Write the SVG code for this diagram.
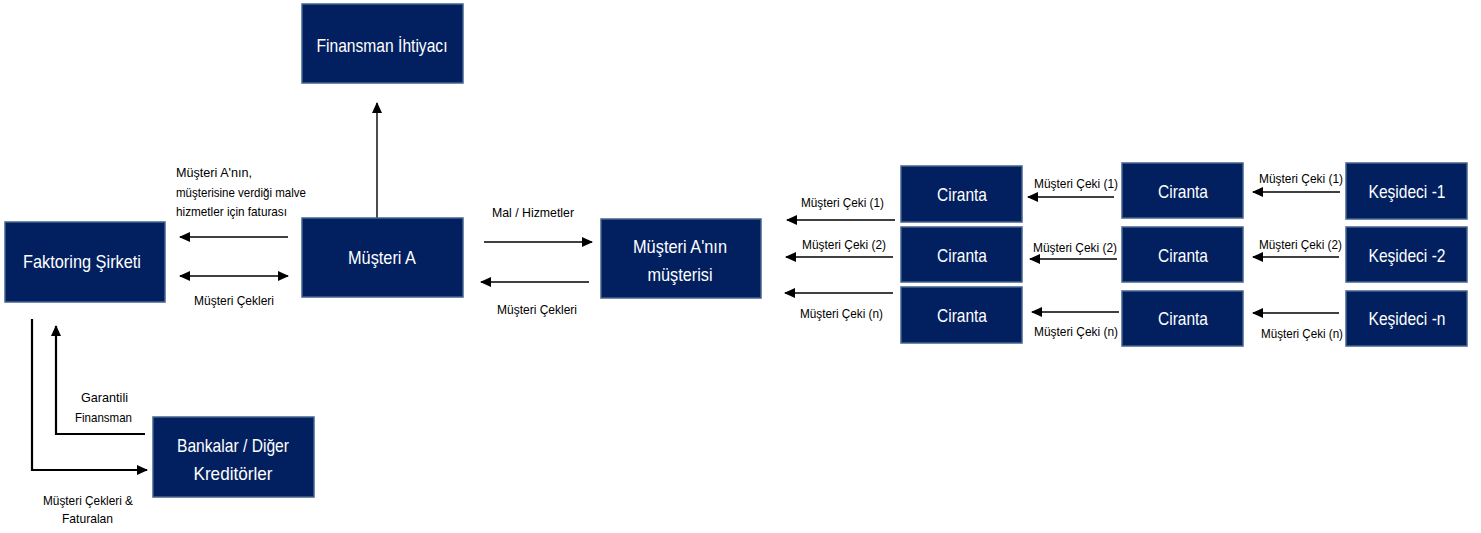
<svg xmlns="http://www.w3.org/2000/svg" width="1481" height="533" viewBox="0 0 1481 533">
<style>
.box{fill:#022060;stroke:#44648c;stroke-width:1.5}
.bt{font-family:"Liberation Sans",Arial,sans-serif;font-size:19px;fill:#ffffff;text-anchor:middle}
.lb{font-family:"Liberation Sans",Arial,sans-serif;font-size:13px;fill:#000000}
.c{text-anchor:middle}
.ln{stroke:#000;stroke-width:1.4;fill:none}
.lnb{stroke:#000;stroke-width:2.2;fill:none}
</style>
<defs>
<marker id="ah" markerUnits="userSpaceOnUse" markerWidth="11" markerHeight="10" refX="10" refY="5" orient="auto-start-reverse" viewBox="0 0 11 10">
<path d="M0,0 L11,5 L0,10 z" fill="#000"/>
</marker>
</defs>
<rect width="1481" height="533" fill="#ffffff"/>

<g id="connectors">
<line class="ln" x1="377" y1="218" x2="377" y2="103" marker-end="url(#ah)"/>
<line class="ln" x1="288" y1="237" x2="180" y2="237" marker-end="url(#ah)"/>
<line class="ln" x1="180" y1="276" x2="288" y2="276" marker-start="url(#ah)" marker-end="url(#ah)"/>
<line class="ln" x1="484" y1="242" x2="592" y2="242" marker-end="url(#ah)"/>
<line class="ln" x1="589" y1="282" x2="481" y2="282" marker-end="url(#ah)"/>
<line class="ln" x1="895" y1="220" x2="787" y2="220" marker-end="url(#ah)"/>
<line class="ln" x1="893" y1="257" x2="786" y2="257" marker-end="url(#ah)"/>
<line class="ln" x1="893" y1="293" x2="785" y2="293" marker-end="url(#ah)"/>
<line class="ln" x1="1114" y1="197" x2="1028" y2="197" marker-end="url(#ah)"/>
<line class="ln" x1="1117" y1="259" x2="1030" y2="259" marker-end="url(#ah)"/>
<line class="ln" x1="1119" y1="312" x2="1032" y2="312" marker-end="url(#ah)"/>
<line class="ln" x1="1340" y1="192" x2="1253" y2="192" marker-end="url(#ah)"/>
<line class="ln" x1="1339" y1="257" x2="1253" y2="257" marker-end="url(#ah)"/>
<line class="ln" x1="1339" y1="313" x2="1253" y2="313" marker-end="url(#ah)"/>
<polyline class="lnb" points="32,319 32,470 147,470" marker-end="url(#ah)"/>
<polyline class="lnb" points="145,434 56,434 56,326" marker-end="url(#ah)"/>

<text class="lb" x="176" y="177" textLength="76" lengthAdjust="spacingAndGlyphs">Müşteri A'nın,</text>
<text class="lb" x="176" y="197" textLength="130" lengthAdjust="spacingAndGlyphs">müşterisine verdiği malve</text>
<text class="lb" x="176" y="216" textLength="111" lengthAdjust="spacingAndGlyphs">hizmetler için faturası</text>
<text class="lb" x="194" y="305" textLength="80" lengthAdjust="spacingAndGlyphs">Müşteri Çekleri</text>
<text class="lb" x="492" y="217" textLength="82" lengthAdjust="spacingAndGlyphs">Mal / Hizmetler</text>
<text class="lb" x="497" y="314" textLength="80" lengthAdjust="spacingAndGlyphs">Müşteri Çekleri</text>
<text class="lb" x="801" y="207" textLength="83" lengthAdjust="spacingAndGlyphs">Müşteri Çeki (1)</text>
<text class="lb" x="802" y="249" textLength="84" lengthAdjust="spacingAndGlyphs">Müşteri Çeki (2)</text>
<text class="lb" x="800" y="318" textLength="83" lengthAdjust="spacingAndGlyphs">Müşteri Çeki (n)</text>
<text class="lb" x="1034" y="188" textLength="84" lengthAdjust="spacingAndGlyphs">Müşteri Çeki (1)</text>
<text class="lb" x="1033" y="252" textLength="84" lengthAdjust="spacingAndGlyphs">Müşteri Çeki (2)</text>
<text class="lb" x="1034" y="336" textLength="84" lengthAdjust="spacingAndGlyphs">Müşteri Çeki (n)</text>
<text class="lb" x="1259" y="183" textLength="84" lengthAdjust="spacingAndGlyphs">Müşteri Çeki (1)</text>
<text class="lb" x="1259" y="249" textLength="83" lengthAdjust="spacingAndGlyphs">Müşteri Çeki (2)</text>
<text class="lb" x="1261" y="338" textLength="82" lengthAdjust="spacingAndGlyphs">Müşteri Çeki (n)</text>
<text class="lb" x="81" y="402" textLength="47" lengthAdjust="spacingAndGlyphs">Garantili</text>
<text class="lb" x="75" y="422" textLength="57" lengthAdjust="spacingAndGlyphs">Finansman</text>
<text class="lb" x="43" y="505" textLength="90" lengthAdjust="spacingAndGlyphs">Müşteri Çekleri &amp;</text>
<text class="lb" x="62" y="523" textLength="51" lengthAdjust="spacingAndGlyphs">Faturalan</text>
</g>

<g id="finansman">
<rect class="box" x="302" y="4" width="161" height="79"/>
<text class="bt" x="382" y="52" textLength="131" lengthAdjust="spacingAndGlyphs">Finansman İhtiyacı</text>
</g>
<g id="faktoring">
<rect class="box" x="5" y="222" width="160" height="80"/>
<text class="bt" x="82" y="268" textLength="118" lengthAdjust="spacingAndGlyphs">Faktoring Şirketi</text>
</g>
<g id="musteriA">
<rect class="box" x="302" y="218" width="161" height="79"/>
<text class="bt" x="382" y="264" textLength="68" lengthAdjust="spacingAndGlyphs">Müşteri A</text>
</g>
<g id="musteriAninMusterisi">
<rect class="box" x="601" y="219" width="160" height="79"/>
<text class="bt" x="680" y="253" textLength="94" lengthAdjust="spacingAndGlyphs">Müşteri A'nın</text>
<text class="bt" x="680" y="281" textLength="65" lengthAdjust="spacingAndGlyphs">müşterisi</text>
</g>
<g id="bankalar">
<rect class="box" x="153" y="417" width="161" height="80"/>
<text class="bt" x="233" y="452" textLength="112" lengthAdjust="spacingAndGlyphs">Bankalar / Diğer</text>
<text class="bt" x="233" y="480" textLength="79" lengthAdjust="spacingAndGlyphs">Kreditörler</text>
</g>
<g id="ciranta11">
<rect class="box" x="901" y="166" width="121" height="56"/>
<text class="bt" x="962" y="201" textLength="50" lengthAdjust="spacingAndGlyphs">Ciranta</text>
</g>
<g id="ciranta12">
<rect class="box" x="901" y="227" width="121" height="55"/>
<text class="bt" x="962" y="262" textLength="50" lengthAdjust="spacingAndGlyphs">Ciranta</text>
</g>
<g id="ciranta13">
<rect class="box" x="901" y="287" width="121" height="56"/>
<text class="bt" x="962" y="322" textLength="50" lengthAdjust="spacingAndGlyphs">Ciranta</text>
</g>
<g id="ciranta21">
<rect class="box" x="1122" y="163" width="121" height="55"/>
<text class="bt" x="1183" y="198" textLength="50" lengthAdjust="spacingAndGlyphs">Ciranta</text>
</g>
<g id="ciranta22">
<rect class="box" x="1122" y="227" width="121" height="55"/>
<text class="bt" x="1183" y="262" textLength="50" lengthAdjust="spacingAndGlyphs">Ciranta</text>
</g>
<g id="ciranta23">
<rect class="box" x="1122" y="291" width="121" height="55"/>
<text class="bt" x="1183" y="325" textLength="50" lengthAdjust="spacingAndGlyphs">Ciranta</text>
</g>
<g id="kesideci1">
<rect class="box" x="1346" y="163" width="121" height="56"/>
<text class="bt" x="1407" y="198" textLength="77" lengthAdjust="spacingAndGlyphs">Keşideci -1</text>
</g>
<g id="kesideci2">
<rect class="box" x="1346" y="227" width="121" height="55"/>
<text class="bt" x="1407" y="262" textLength="77" lengthAdjust="spacingAndGlyphs">Keşideci -2</text>
</g>
<g id="kesicedin">
<rect class="box" x="1346" y="291" width="121" height="55"/>
<text class="bt" x="1407" y="325" textLength="77" lengthAdjust="spacingAndGlyphs">Keşideci -n</text>
</g>
</svg>
